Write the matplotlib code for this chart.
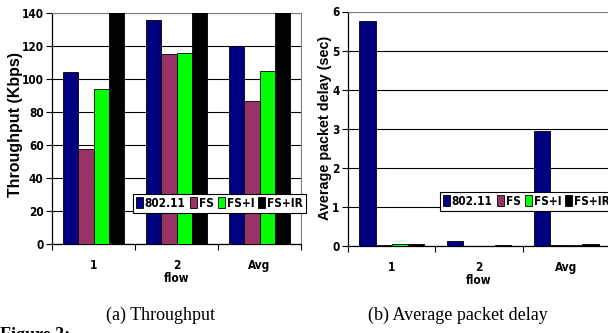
import matplotlib
matplotlib.use('Agg')
import matplotlib.pyplot as plt
import numpy as np
from matplotlib.ticker import MultipleLocator, FixedLocator
from matplotlib import font_manager

categories = ['1', '2', 'Avg']
series = ['802.11', 'FS', 'FS+I', 'FS+IR']
throughput_80211 = [104, 136, 120]
throughput_fs = [57.5, 115, 86.5]
throughput_fsi = [94, 115.5, 105]
throughput_fsir = [160, 160, 160]
delay_80211 = [5.75, 0.12, 2.93]
delay_fs = [0.03, 0.01, 0.02]
delay_fsi = [0.04, 0.01, 0.03]
delay_fsir = [0.05, 0.02, 0.04]
colors = ['#000080', '#993366', '#00FF00', '#000000']

NARROW = ['DejaVu Sans']
NSTRETCH = 'condensed'
WIDE = ['Liberation Sans', 'DejaVu Sans']
SERIF = ['Liberation Serif', 'DejaVu Serif']
TICK_FS = 8.5

W, H = 608, 333
fig = plt.figure(figsize=(W / 100, H / 100), dpi=100)
fig.patch.set_facecolor('white')


def px_axes(x0, y_top, x1, y_bot):
    return fig.add_axes([x0 / W, 1 - y_bot / H, (x1 - x0) / W, (y_bot - y_top) / H])


ax1 = px_axes(52, 13, 301, 244)
ax2 = px_axes(348, 11.5, 610, 246)


def draw(ax, data, ymax, ystep, leg_xy):
    x = np.arange(len(categories))
    w = 0.185
    for i, (vals, c) in enumerate(zip(data, colors)):
        ax.bar(x + (i - 1.5) * w, vals, w, color=c, edgecolor='black',
               linewidth=0.6, label=series[i], zorder=3)
    ax.set_xlim(-0.5, len(categories) - 0.5)
    ax.set_ylim(0, ymax)
    ax.yaxis.set_major_locator(MultipleLocator(ystep))
    ax.grid(axis='y', color='black', linewidth=0.8, zorder=0)
    ax.set_axisbelow(True)
    ax.set_xticks(x)
    ax.set_xticklabels(categories)
    ax.xaxis.set_minor_locator(FixedLocator(np.arange(len(categories) + 1) - 0.5))
    ax.tick_params(axis='x', which='major', length=0, pad=11)
    ax.tick_params(axis='x', which='minor', length=4, width=0.8, direction='out')
    ax.tick_params(axis='y', length=4, width=0.8, direction='out', pad=2)
    for lab in ax.get_xticklabels() + ax.get_yticklabels():
        lab.set_fontfamily(NARROW)
        lab.set_fontstretch(NSTRETCH)
        lab.set_fontweight('bold')
        lab.set_fontsize(TICK_FS)
    ax.set_xlabel('flow', fontfamily=NARROW, fontstretch=NSTRETCH, fontweight='bold',
                  fontsize=TICK_FS, labelpad=0)
    for s in ['left', 'bottom']:
        ax.spines[s].set_color('black')
        ax.spines[s].set_linewidth(0.9)
    for s in ['top', 'right']:
        ax.spines[s].set_color('#808080')
        ax.spines[s].set_linewidth(0.8)
    leg = ax.legend(ncol=4, loc='upper left', bbox_to_anchor=(leg_xy[0] / W, 1 - leg_xy[1] / H),
                    bbox_transform=fig.transFigure, frameon=True, fancybox=False,
                    edgecolor='black', framealpha=1, borderpad=0.25,
                    handlelength=0.6, handleheight=1.05, handletextpad=0.15,
                    columnspacing=0.35, borderaxespad=0,
                    prop=font_manager.FontProperties(family=NARROW, stretch=NSTRETCH,
                                                     weight='bold', size=8.5))
    leg.get_frame().set_linewidth(0.8)
    leg.set_zorder(10)


draw(ax1, [throughput_80211, throughput_fs, throughput_fsi, throughput_fsir], 140, 20, (133, 194))
draw(ax2, [delay_80211, delay_fs, delay_fsi, delay_fsir], 6, 1, (440, 192))

fig.text(16 / W, 1 - 124.5 / H, 'Throughput (Kbps)', rotation=90, ha='center', va='center',
         fontfamily=WIDE, fontweight='bold', fontsize=11.5)
fig.text(325 / W, 1 - 127.5 / H, 'Average packet delay (sec)', rotation=90, ha='center',
         va='center', fontfamily=WIDE, fontweight='bold', fontsize=10.4)

fig.text(160 / W, 1 - 315 / H, '(a) Throughput', ha='center', va='center',
         fontfamily=SERIF, fontsize=13)
fig.text(458 / W, 1 - 315 / H, '(b) Average packet delay', ha='center', va='center',
         fontfamily=SERIF, fontsize=13)
fig.text(0.0, 1 - 327 / H, 'Figure 3:', ha='left', va='top',
         fontfamily=SERIF, fontweight='bold', fontsize=13)

fig.savefig('out.png', dpi=100)
